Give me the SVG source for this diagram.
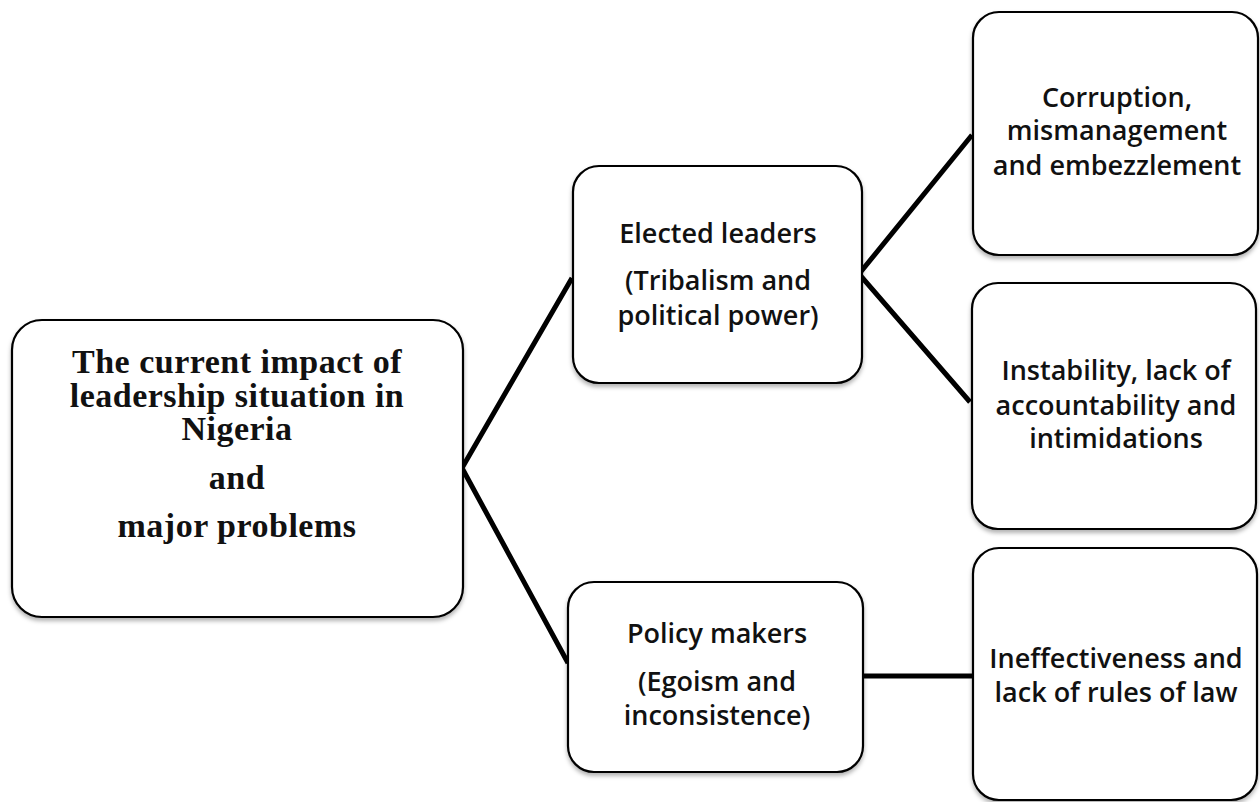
<svg xmlns="http://www.w3.org/2000/svg" width="1260" height="802" viewBox="0 0 1260 802">
  <style>
    .box { fill: #ffffff; stroke: #000000; stroke-width: 2.2; filter: url(#shadow); }
    .link { stroke: #000000; stroke-width: 5; fill: none; stroke-linejoin: miter; }
    .serif { font-family: "Liberation Serif", "Times New Roman", serif; font-weight: bold; font-size: 34px; letter-spacing: 0.5px; fill: #111; text-anchor: middle; }
    .sans { font-family: "Open Sans", "Noto Sans", sans-serif; font-weight: 600; font-size: 27px; fill: #111; text-anchor: middle; }
  </style>
  <defs>
    <filter id="shadow" x="-5%" y="-5%" width="110%" height="115%">
      <feDropShadow dx="0" dy="3" stdDeviation="2" flood-color="#000" flood-opacity="0.3"/>
    </filter>
  </defs>
  <rect width="1260" height="802" fill="#ffffff"/>

  <!-- connectors -->
  <g id="connectors">
    <polyline class="link" points="572,278 462,468 568,663"/>
    <polyline class="link" points="972,135 859,274 970,402"/>
    <line class="link" x1="862" y1="676" x2="973" y2="676"/>
  </g>

  <g id="node-root">
    <rect class="box" x="12" y="320" width="451" height="297" rx="30"/>
    <text class="serif" x="237" y="373">The current impact of</text>
    <text class="serif" x="237" y="407">leadership situation in</text>
    <text class="serif" x="237" y="440">Nigeria</text>
    <text class="serif" x="237" y="489">and</text>
    <text class="serif" x="237" y="537">major problems</text>
  </g>

  <g id="node-elected">
    <rect class="box" x="573" y="166" width="289" height="217" rx="26"/>
    <text class="sans" x="718" y="243">Elected leaders</text>
    <text class="sans" x="718" y="290">(Tribalism and</text>
    <text class="sans" x="718" y="325">political power)</text>
  </g>

  <g id="node-policy">
    <rect class="box" x="568" y="582" width="295" height="190" rx="26"/>
    <text class="sans" x="717" y="643">Policy makers</text>
    <text class="sans" x="717" y="691">(Egoism and</text>
    <text class="sans" x="717" y="725">inconsistence)</text>
  </g>

  <g id="node-corruption">
    <rect class="box" x="973" y="12" width="285" height="243" rx="26"/>
    <text class="sans" x="1117" y="107">Corruption,</text>
    <text class="sans" x="1117" y="140">mismanagement</text>
    <text class="sans" x="1117" y="175">and embezzlement</text>
  </g>

  <g id="node-instability">
    <rect class="box" x="972" y="283" width="284" height="246" rx="26"/>
    <text class="sans" x="1116" y="380">Instability, lack of</text>
    <text class="sans" x="1116" y="415">accountability and</text>
    <text class="sans" x="1116" y="448">intimidations</text>
  </g>

  <g id="node-ineffectiveness">
    <rect class="box" x="973" y="548" width="284" height="252" rx="26"/>
    <text class="sans" x="1116" y="668">Ineffectiveness and</text>
    <text class="sans" x="1116" y="702">lack of rules of law</text>
  </g>
</svg>
